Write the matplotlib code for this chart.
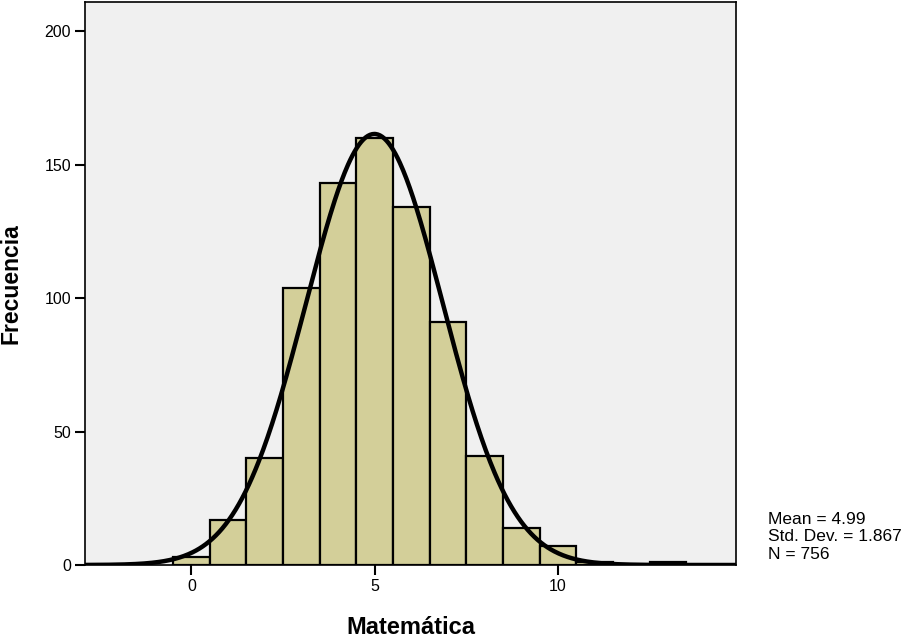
import numpy as np
import matplotlib
matplotlib.use("Agg")
import matplotlib.pyplot as plt

plt.rcParams['font.family'] = ['Liberation Sans', 'DejaVu Sans']

# histogram bins (centered on integer scores) and counts
bin_centers = [0, 1, 2, 3, 4, 5, 6, 7, 8, 9, 10, 11, 12, 13]
counts = [3, 17, 40, 104, 143, 160, 134, 91, 41, 14, 7, 1, 0, 1]
mean, std, n = 4.99, 1.867, 756

fig = plt.figure(figsize=(9.02, 6.41), dpi=100)
ax = fig.add_axes([85/902, 76/641, (736-85)/902, (564-1)/641])
ax.set_facecolor('#F0F0F0')

ax.bar(bin_centers, counts, width=1.0, color='#D3CF99', edgecolor='black',
       linewidth=1.6, zorder=2)

# fitted normal curve, scaled to counts with bin width 1
xs = np.linspace(-3, 15, 600)
ys = n / (std * np.sqrt(2 * np.pi)) * np.exp(-0.5 * ((xs - mean) / std) ** 2)
ax.plot(xs, ys, color='black', linewidth=3.2, zorder=3)

ax.set_xlim(-2.9, 14.85)
ax.set_ylim(0, 211)
ax.set_xticks([0, 5, 10])
ax.set_yticks([0, 50, 100, 150, 200])
ax.tick_params(axis='both', labelsize=11.5, length=7, width=1.5, direction='out', pad=3)
for s in ax.spines.values():
    s.set_linewidth(1.2)

ax.set_xlabel('Matemática', fontsize=17, fontweight='bold', labelpad=16)
ax.set_ylabel('Frecuencia', fontsize=16.5, fontweight='bold', labelpad=16)

fig.text(768/902, 1 - 512/641, 'Mean = 4.99\nStd. Dev. = 1.867\nN = 756',
         fontsize=12.5, va='top', ha='left', linespacing=1.2)

fig.savefig('out.png', dpi=100)
